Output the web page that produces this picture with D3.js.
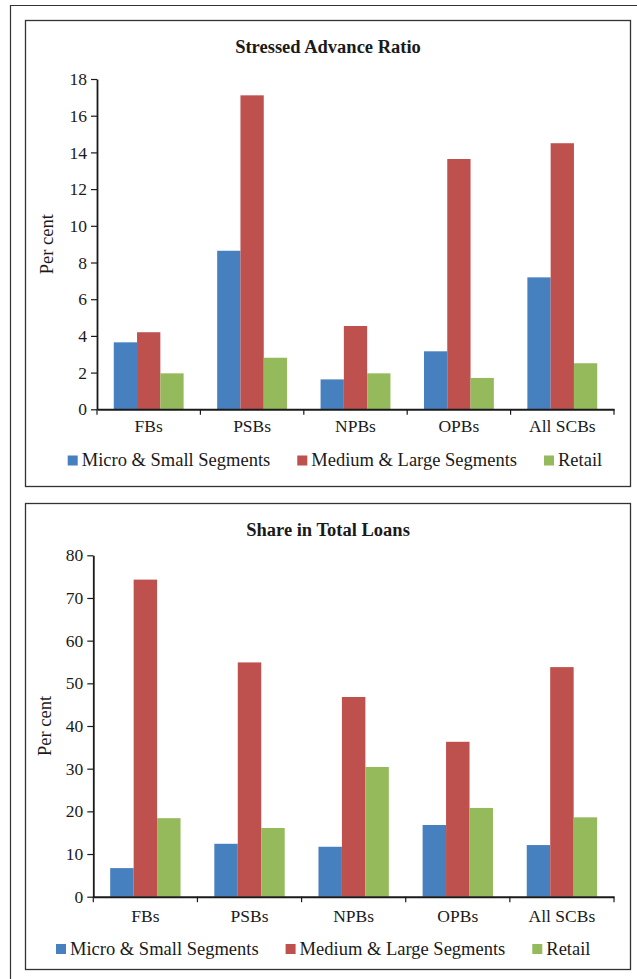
<!DOCTYPE html>
<html>
<head>
<meta charset="utf-8">
<script src="https://cdn.jsdelivr.net/npm/d3@7"></script>
<style>
  html, body { margin: 0; padding: 0; background: #fff; }
  svg { display: block; }
  text { font-family: "Liberation Serif", "Times New Roman", serif; fill: #1a1a1a; }
</style>
</head>
<body>
<svg id="chart" width="637" height="979"></svg>
<script>
// Bank groups shown on the x axis
const categories = ["FBs", "PSBs", "NPBs", "OPBs", "All SCBs"];
const seriesNames = ["Micro & Small Segments", "Medium & Large Segments", "Retail"];
const seriesColors = ["#4780BF", "#BE504D", "#94BA5C"];

// Stressed advance ratio (per cent)
const stressedMicroSmall   = [3.65, 8.64, 1.63, 3.16, 7.19];
const stressedMediumLarge  = [4.20, 17.11, 4.54, 13.64, 14.50];
const stressedRetail       = [1.96, 2.81, 1.96, 1.71, 2.51];
const stressedTicks = [0, 2, 4, 6, 8, 10, 12, 14, 16, 18];

// Share in total loans (per cent)
const shareMicroSmall  = [6.7, 12.4, 11.7, 16.8, 12.1];
const shareMediumLarge = [74.3, 54.9, 46.8, 36.3, 53.8];
const shareRetail      = [18.4, 16.1, 30.4, 20.8, 18.6];
const shareTicks = [0, 10, 20, 30, 40, 50, 60, 70, 80];

const svg = d3.select("#chart");

// outer page frame (open to the right and bottom)
svg.append("path")
  .attr("d", "M10.5,979 V5.5 H637")
  .attr("fill", "none").attr("stroke", "#333").attr("stroke-width", 1.2);

function drawPanel(opt) {
  const g = svg.append("g");

  // panel border
  g.append("rect")
    .attr("x", opt.box[0] + 0.5).attr("y", opt.box[1] + 0.5)
    .attr("width", opt.box[2] - opt.box[0]).attr("height", opt.box[3] - opt.box[1])
    .attr("fill", "none").attr("stroke", "#333").attr("stroke-width", 1.3);

  // title
  g.append("text")
    .attr("x", 328).attr("y", opt.titleY)
    .attr("text-anchor", "middle")
    .style("font-size", "18.5px").style("font-weight", "bold")
    .text(opt.title);

  const x = d3.scaleBand().domain(categories).range(opt.xRange).paddingInner(0).paddingOuter(0);
  const xs = d3.scaleBand().domain(seriesNames).range([0, x.bandwidth()]).paddingInner(0).paddingOuter(0.72);
  const y = d3.scaleLinear().domain([0, opt.ticks[opt.ticks.length - 1]]).range(opt.yRange);

  const rows = categories.map((c, i) => ({
    cat: c,
    vals: seriesNames.map((s, k) => ({ s, k, v: opt.series[k][i] }))
  }));

  // bars
  const groups = g.append("g").selectAll("g").data(rows).join("g")
    .attr("transform", d => `translate(${x(d.cat)},0)`);
  groups.selectAll("rect").data(d => d.vals).join("rect")
    .attr("x", d => xs(d.s))
    .attr("y", d => y(d.v))
    .attr("width", xs.bandwidth())
    .attr("height", d => y(0) - y(d.v))
    .attr("fill", d => seriesColors[d.k]);

  // y axis
  const yAxis = d3.axisLeft(y).tickValues(opt.ticks).tickSize(6).tickSizeOuter(0).tickPadding(4);
  const ya = g.append("g").attr("transform", `translate(${opt.xRange[0]},0)`).call(yAxis);
  ya.select(".domain").attr("stroke", "#1a1a1a").attr("stroke-width", 1.8);
  ya.selectAll(".tick line").attr("stroke", "#1a1a1a").attr("stroke-width", 1.2);
  ya.selectAll(".tick text")
    .style("font-family", '"Liberation Serif", serif')
    .style("font-size", "17.5px").attr("fill", "#1a1a1a");

  // x axis
  const xAxis = d3.axisBottom(x).tickSize(0).tickSizeOuter(0).tickPadding(0);
  const xa = g.append("g").attr("transform", `translate(0,${y(0)})`).call(xAxis);
  xa.select(".domain").attr("stroke", "#1a1a1a").attr("stroke-width", 2);
  xa.selectAll(".tick text")
    .attr("y", opt.catOffset).attr("dy", 0)
    .style("font-family", '"Liberation Serif", serif')
    .style("font-size", "17.5px").attr("fill", "#1a1a1a");
  // category separators below the axis
  const bounds = categories.map(c => x(c)).concat([x.range()[1]]);
  xa.selectAll("line.sep").data(bounds).join("line")
    .attr("class", "sep")
    .attr("x1", d => d).attr("x2", d => d)
    .attr("y1", 0).attr("y2", 5.5)
    .attr("stroke", "#1a1a1a").attr("stroke-width", 1.2);

  // y axis title
  const ym = (opt.yRange[0] + opt.yRange[1]) / 2;
  g.append("text")
    .attr("transform", `translate(${opt.yLabelX},${ym}) rotate(-90)`)
    .attr("text-anchor", "middle")
    .style("font-size", "18.5px")
    .text("Per cent");

  // legend
  const leg = g.append("g");
  let lx = opt.legendX;
  seriesNames.forEach((s, k) => {
    leg.append("rect")
      .attr("x", lx).attr("y", opt.legendY - 10.5)
      .attr("width", 10).attr("height", 10)
      .attr("fill", seriesColors[k]);
    const t = leg.append("text")
      .attr("x", lx + 14).attr("y", opt.legendY)
      .style("font-size", "18.5px")
      .text(s);
    lx += 14 + t.node().getComputedTextLength() + 27;
  });
}

drawPanel({
  box: [25, 20, 630, 486],
  title: "Stressed Advance Ratio",
  titleY: 53,
  xRange: [97, 614],
  yRange: [409.3, 79],
  ticks: stressedTicks,
  series: [stressedMicroSmall, stressedMediumLarge, stressedRetail],
  catOffset: 22.5,
  yLabelX: 53,
  legendX: 67.7,
  legendY: 466
});

drawPanel({
  box: [25, 503, 630, 969],
  title: "Share in Total Loans",
  titleY: 536,
  xRange: [93.3, 614],
  yRange: [896.7, 555.3],
  ticks: shareTicks,
  series: [shareMicroSmall, shareMediumLarge, shareRetail],
  catOffset: 25,
  yLabelX: 51,
  legendX: 56,
  legendY: 954.5
});
</script>
</body>
</html>
